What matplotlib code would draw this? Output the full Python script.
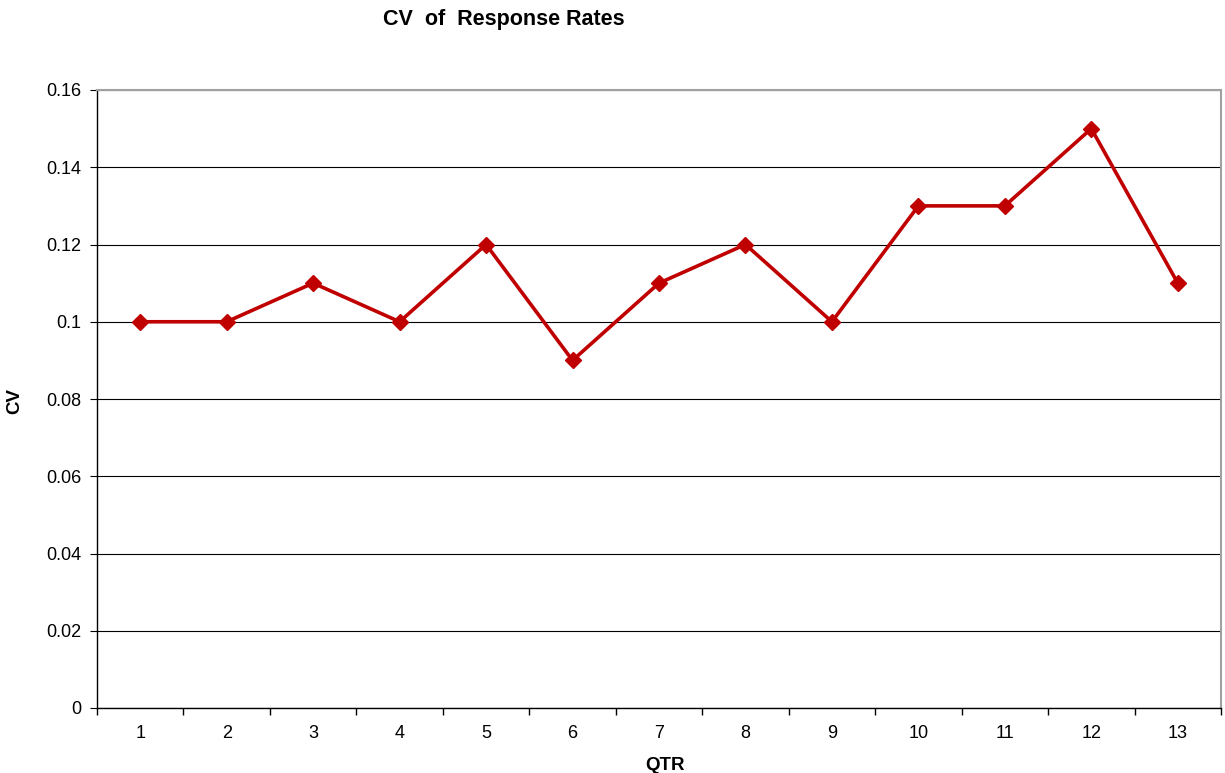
import numpy as np
import matplotlib.pyplot as plt
from matplotlib.ticker import FixedLocator

plt.rcParams['font.family'] = ['Liberation Sans', 'DejaVu Sans']

qtr = [1, 2, 3, 4, 5, 6, 7, 8, 9, 10, 11, 12, 13]
cv = [0.10, 0.10, 0.11, 0.10, 0.12, 0.09, 0.11, 0.12, 0.10, 0.13, 0.13, 0.15, 0.11]
yticks = [0, 0.02, 0.04, 0.06, 0.08, 0.1, 0.12, 0.14, 0.16]
ylabels = ['0', '0.02', '0.04', '0.06', '0.08', '0.1', '0.12', '0.14', '0.16']

fig = plt.figure(figsize=(12.25, 7.73), dpi=100)
ax = fig.add_axes([97/1225, 65/773, 1124/1225, 618/773])

ax.plot(qtr, cv, color='#C00000', lw=2.6, marker='D', markersize=8.5, zorder=3)

ax.set_xlim(0.5, 13.5)
ax.set_ylim(0, 0.16)
ax.set_yticks(yticks)
ax.set_yticklabels(ylabels)
ax.grid(axis='y', color='black', lw=0.8)
ax.set_axisbelow(True)

# category labels at centres, tick marks between categories
ax.set_xticks(qtr)
ax.set_xticklabels([str(q) for q in qtr])
ax.xaxis.set_minor_locator(FixedLocator(np.arange(0.5, 13.6, 1)))
ax.tick_params(axis='x', which='major', length=0, labelsize=13, pad=12)
ax.tick_params(axis='x', which='minor', length=5, direction='out', width=1)
ax.tick_params(axis='y', length=5, direction='out', labelsize=13, pad=6)

for s in ['top', 'right']:
    ax.spines[s].set_color('#A0A0A0')
    ax.spines[s].set_linewidth(1.5)
for s in ['left', 'bottom']:
    ax.spines[s].set_color('black')
    ax.spines[s].set_linewidth(1.0)

fig.text(665/1225, 1 - 765/773, 'QTR', fontsize=13.5, fontweight='bold',
         ha='center', va='center')
fig.text(15/1225, 1 - 401/773, 'CV', fontsize=13.5, fontweight='bold',
         ha='center', va='center', rotation=90)
fig.text(504/1225, 1 - 19/773, 'CV  of  Response Rates', fontsize=15.5, fontweight='bold',
         ha='center', va='center')

plt.savefig('out.png', dpi=100)
